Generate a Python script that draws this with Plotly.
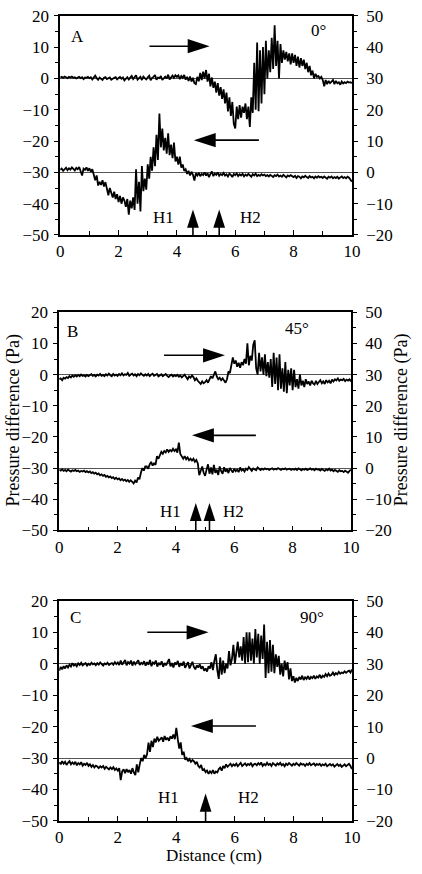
import plotly.graph_objects as go

W, H = 422, 874
FONT = "Liberation Serif"

# ---------------- data ----------------
distance = [round(0.05 * i, 2) for i in range(201)]  # cm

# Panel A (0 deg): upper trace on left axis, lower trace on right axis
a_top = [
    0.3, 0.5, 0.2, 0.6, 0.4, 0.1, 0.5, 0.3, 0.6, 0.2, 0.4, 0.0, 0.3, 0.5, 0.1, 0.4, -0.2, 0.3, 0.2, 0.5,
    0.1, 0.4, -0.3, 0.2, 0.9, 0.1, -0.4, 0.3, 0.0, -0.5, 0.2, 0.4, -0.2, 0.1, 0.3, -0.4, 0.0, 0.2, 0.4, -0.3,
    0.2, 0.5, -0.1, 0.3, -0.6, 0.1, 0.4, -0.3, 0.2, 0.8, -0.2, 0.3, 1.0, -0.4, 0.2, 0.5, -0.5, 0.6, 0.1, -0.3,
    0.4, 0.9, -0.6, 0.2, 0.5, 1.1, -0.4, 0.3, 0.1, 0.8, -0.5, 0.2, 0.6, 0.0, 1.2, -0.3, 0.4, 0.9, 0.2, 1.0,
    0.5, 1.0, -0.2, 0.8, 0.2, 1.1, -0.4, 0.5, -0.8, 0.6, -1.0, 0.2, -1.5, -1.8, 0.5, -0.9, 1.8, -0.5, 2.2, 0.0,
    2.7, -1.0, 1.5, -2.5, 0.3, -3.0, -1.0, -4.5, -1.5, -5.5, -2.8, -6.5, -3.5, -8.0, -4.5, -10.5, -6.0, -12.0, -7.5, -14.5,
    -16.0, -9.0, -13.0, -8.5, -12.5, -9.0, -11.0, -8.0, -13.0, -9.0, -15.5, -6.0, -11.0, 5.0, -10.0, 11.5, -10.5, 9.0, -8.0, 10.0,
    -5.0, 12.0, 0.0, 9.0, 2.0, 13.0, 3.0, 17.0, 4.0, 12.0, 0.0, 11.0, 5.0, 9.0, 6.0, 8.5, 5.5, 8.0, 4.5, 8.0,
    5.0, 7.5, 4.0, 7.0, 3.5, 6.5, 4.0, 6.0, 3.0, 5.0, 2.0, 4.0, 1.0, 2.5, 0.0, 1.5, 0.5, 0.8, 0.0, 0.5,
    -0.5, -2.5, -0.5, -1.8, -0.8, -1.5, -1.0, -0.5, -1.8, -0.8, -1.5, -1.2, -2.0, -1.0, -1.6, -1.2, -1.5, -1.0, -1.3, -1.2, -1.5,
]
a_bottom = [
    0.8, 1.2, 0.5, 1.0, 1.5, 0.7, 1.3, 0.9, 1.6, 1.1, 0.6, 1.4, 1.0, 1.7, 0.3, -1.0, 1.2, 0.8, 1.6, 0.5,
    1.3, 0.2, 1.0, -0.5, -2.5, -1.0, -4.2, -3.0, -4.0, -2.5, -4.5, -3.1, -5.5, -7.3, -5.0, -6.5, -8.0, -6.2, -8.5, -7.0,
    -9.5, -7.5, -10.0, -8.0, -9.0, -11.0, -8.5, -13.5, -9.0, -11.5, -8.0, -12.0, 1.0, -10.0, -3.0, -12.5, 2.0, -6.0, -2.0, -5.5,
    2.6, -2.0, 5.0, 0.5, 8.0, 2.0, 12.0, 4.0, 18.8, 8.0, 14.0, 7.0, 11.0, 6.0, 12.5, 5.5, 8.9, 4.5, 9.5, 3.5,
    5.0, 2.5, 5.0, 1.5, 2.5, 0.5, 1.0, -0.5, 0.5, -1.0, 0.2, -0.8, -2.6, -0.3, -1.0, -0.2, -1.2, -0.5, -0.9, 0.0,
    -1.0, -0.3, -1.5, -0.5, 0.3, -1.2, -0.4, -0.8, 0.0, -1.1, -0.5, -0.9, -0.2, -1.0, -0.6, -1.3, -0.4, -0.8, -1.5, -0.5,
    -0.9, -0.3, -1.2, -0.6, -1.0, -0.4, -1.3, -0.7, -1.1, -0.5, -0.9, -1.4, -0.6, -1.0, -0.4, -1.2, -0.8, -1.1, -0.6, -1.0,
    -0.7, -1.2, -0.9, -1.3, -0.8, -1.1, -1.5, -0.9, -1.2, -0.7, -1.3, -1.0, -1.4, -0.8, -1.1, -1.6, -1.0, -1.3, -0.9, -1.2,
    -1.5, -1.1, -1.8, -1.2, -1.4, -1.9, -1.3, -1.6, -1.1, -1.5, -1.8, -1.2, -1.6, -1.4, -1.9, -1.3, -1.7, -1.2, -1.6, -1.4,
    -1.8, -1.3, -1.6, -2.0, -1.4, -1.7, -1.3, -1.9, -1.5, -1.8, -1.4, -2.0, -1.6, -1.3, -1.8, -1.5, -1.9, -1.4, -1.7, -2.2, -3.0,
]

# Panel B (45 deg)
b_top = [
    -1.5, -1.2, -1.8, -1.0, -1.3, -0.8, -1.1, -0.5, -0.9, -0.3, -0.7, -0.2, -0.6, -0.1, -0.5, 0.0, -0.4, -0.2, -0.6, -0.1,
    -0.5, -0.2, 0.1, -0.4, -0.1, -0.6, 0.0, -0.3, 0.2, -0.4, -0.1, -0.5, 0.1, -0.3, 0.3, -0.2, -0.5, 0.2, -0.3, 0.0,
    -0.4, 0.2, -0.2, 0.4, -0.3, 0.1, -0.1, 0.5, -0.4, 0.0, 0.3, -0.3, 0.1, -0.5, 0.2, -0.2, 0.4, -0.1, -0.4, 0.1,
    -0.3, 0.2, -0.5, 0.0, 0.3, -0.4, -0.1, 0.2, -0.6, -0.2, 0.1, -0.5, -0.1, 0.2, -0.4, -0.8, -0.3, 0.0, -0.6, -0.2,
    -0.5, -0.1, -0.7, -0.3, -0.9, -0.4, 0.0, -0.8, -1.5, -0.6, -1.0, -0.3, -0.8, -1.8, -1.2, -2.0, -2.5, -3.0, -2.2, -2.8,
    -2.4, -1.8, -2.6, -1.5, -0.5, -1.2, -0.2, 1.0, -0.6, -1.5, -1.0, -1.8, -1.2, -2.0, -2.6, -1.5, 1.0, 0.5, 3.0, 5.5,
    3.5, 4.5, 2.5, 3.8, 2.2, 4.0, 3.0, 5.0, 3.5, 10.0, 3.0, 6.0, 4.5, 9.5, 11.0, 2.0, 0.0, 7.0, 1.0, 5.5,
    0.0, 6.5, -0.5, 4.0, -1.0, 5.0, -4.0, 7.0, -3.0, 5.5, -5.0, 6.5, -4.5, 2.0, -5.5, 4.0, -6.0, 1.5, -3.5, 2.0,
    -5.0, 1.5, -4.0, -1.5, -4.5, 0.0, -3.5, -2.0, -4.0, -1.5, -3.0, -2.2, -3.5, -2.0, -2.8, -3.2, -2.0, -3.0, -2.4, -1.8,
    -2.8, -2.2, -3.0, -1.8, -2.5, -2.0, -2.8, -1.6, -2.2, -1.5, -1.9, -1.2, -2.0, -1.6, -1.8, -1.4, -2.1, -1.6, -1.9, -1.5, -2.2,
]
b_bottom = [
    -0.5, -0.8, -0.4, -0.9, -0.6, -1.0, -0.5, -0.8, -1.1, -0.7, -0.9, -0.6, -1.0, -0.8, -1.2, -0.9, -1.1, -0.8, -1.3, -1.0,
    -1.4, -1.1, -1.6, -1.3, -1.8, -1.5, -2.0, -1.7, -2.3, -2.0, -2.5, -2.2, -2.8, -2.5, -3.0, -2.7, -3.2, -2.9, -3.5, -3.1,
    -3.6, -3.3, -3.9, -3.5, -4.0, -3.7, -4.2, -3.8, -4.4, -3.9, -4.3, -4.9, -4.0, -4.6, -3.0, -3.6, -1.5, 0.0, -0.8, 0.5,
    0.5, -0.2, 1.2, 2.0, 0.8, 1.5, 1.0, 3.8, 3.0, 4.5, 5.2, 4.6, 5.5, 5.0, 6.0, 5.2, 5.8, 5.4, 6.2, 5.5,
    6.0, 5.0, 8.2, 4.5, 3.5, 3.0, 3.8, 2.8, 3.4, 2.5, 3.0, 2.4, 3.0, 2.0, 2.6, 1.5, -2.3, -0.5, 0.5, -1.5,
    -2.5, -0.5, 1.2, -1.8, 0.2, -2.0, 1.0, -1.5, -0.5, -2.2, 0.5, -1.0, -1.8, 0.3, -1.2, -0.3, -1.6, 0.0, -0.9, -1.4,
    -0.2, -1.0, -0.5, -1.3, 0.2, -0.8, -0.4, -1.1, -0.2, -0.6, 0.3, -0.5, -0.9, -0.1, -0.4, -0.7, 0.2, -0.3, -0.6, -0.2,
    -0.5, -0.1, -0.4, -0.2, -0.6, -0.3, -0.1, -0.5, -0.2, -0.4, 0.0, -0.3, -0.6, -0.2, -0.4, -0.1, -0.5, -0.3, -0.2, -0.6,
    -0.3, -0.5, -0.2, -0.6, -0.1, -0.4, -0.7, -0.3, -0.5, -0.2, -0.6, -0.4, -0.1, -0.5, -0.3, -0.7, -0.2, -0.5, -0.4, -0.8,
    -0.3, -0.6, -0.9, -0.4, -0.7, -0.2, -0.8, -0.5, -1.0, -0.6, -0.8, -1.2, -0.7, -1.0, -0.9, -1.3, -0.8, -1.1, -1.5, -0.9, -0.5,
]

# Panel C (90 deg)
c_top = [
    -2.2, -1.0, -1.8, -0.8, -1.5, -0.5, -1.2, -0.3, -0.9, 0.2, -0.6, -0.2, -0.8, 0.1, -0.4, 0.3, -0.5, -0.1, 0.2, -0.6,
    0.0, -0.4, 0.3, -0.2, 0.1, -0.5, 0.2, -0.3, 0.4, -0.1, -0.6, 0.1, -0.2, 0.3, -0.4, 0.0, 0.2, -0.3, 0.5, -0.1,
    0.4, -0.4, 1.0, -0.3, 0.6, 1.2, -0.5, 0.5, 0.0, 1.0, -0.6, 0.7, -0.2, 0.4, 1.1, -0.4, 0.3, -0.1, 0.8, -0.6,
    0.5, -0.3, 1.2, -0.8, 0.4, 0.0, 1.0, -0.9, 0.3, -0.4, 0.8, -1.0, 0.2, -0.5, 0.6, 1.5, -0.8, 0.2, -1.2, 0.4,
    -0.3, 0.9, -1.0, 0.2, -0.6, 0.7, -1.3, -0.2, 0.5, -1.5, -0.4, 0.6, -1.0, -1.8, -0.5, -1.2, -0.2, -1.6, -0.8, -2.2,
    -1.5, -2.5, -0.8, -1.5, 0.5, -2.0, 1.0, 3.0, -2.0, -4.8, 2.0, -3.5, 1.0, -3.0, 0.0, -1.5, 4.0, -0.5, 1.5, 6.0,
    0.0, 3.0, 7.0, 2.0, 5.5, 1.0, 8.5, 0.0, 10.0, 0.5, 10.0, 1.0, 8.0, 0.0, 11.0, 2.0, 9.5, 0.0, 9.0, 1.5,
    12.5, -4.5, 7.0, -3.0, 7.5, -2.5, 6.0, -3.0, 3.0, -1.0, 2.5, -3.5, 0.0, -4.0, 1.0, -2.0, 0.5, -5.0, -1.5, -5.5,
    -4.0, -6.0, -4.5, -5.5, -4.2, -5.0, -3.8, -5.2, -4.3, -4.8, -3.9, -5.0, -4.2, -4.6, -3.8, -4.8, -4.0, -4.4, -3.5, -4.6,
    -3.8, -4.2, -3.3, -4.0, -3.1, -3.8, -3.5, -2.8, -3.6, -3.0, -3.4, -2.6, -3.2, -2.8, -3.0, -2.4, -2.9, -2.5, -2.2, -2.8, -1.8,
]
c_bottom = [
    -1.3, -2.0, -1.0, -1.8, -1.2, -2.2, -1.5, -1.0, -2.0, -1.4, -1.9, -1.2, -2.3, -1.6, -2.0, -1.3, -2.4, -1.8, -2.2, -1.5,
    -2.5, -2.0, -2.8, -2.2, -3.0, -2.4, -2.7, -3.2, -2.6, -3.0, -2.5, -3.4, -2.8, -3.2, -3.6, -3.0, -3.5, -2.9, -3.8, -3.3,
    -4.0, -3.2, -7.0, -4.2, -3.6, -4.8, -3.5, -4.5, -3.8, -5.0, -3.2, -4.6, -5.4, -2.0, -4.5, -2.0, 0.0, -1.0, 1.0, 0.0,
    1.2, 4.9, 2.0, 5.5, 3.5, 6.2, 5.0, 6.8, 5.5, 6.0, 6.6, 5.2, 7.0, 5.8, 6.5, 5.5, 6.9, 6.2, 7.5, 6.0,
    9.6, 6.0, 3.0, 5.0, 1.0, 2.0, -0.5, 0.0, -1.0, -0.3, -1.2, -0.6, -1.0, -1.8, -1.2, -2.5, -3.0, -2.2, -4.0, -3.5,
    -4.5, -4.0, -5.0, -4.2, -4.8, -3.8, -5.0, -4.3, -4.6, -3.5, -3.0, -4.0, -2.5, -3.2, -2.0, -2.8, -2.3, -1.8, -2.6, -2.0,
    -2.4, -1.8, -2.6, -2.0, -1.5, -2.5, -2.1, -1.7, -2.4, -1.9, -2.2, -1.5, -2.6, -2.0, -1.8, -2.3, -1.6, -2.1, -1.4, -2.5,
    -1.9, -2.3, -1.5, -2.2, -1.8, -2.5, -1.6, -2.0, -2.4, -1.7, -2.1, -1.5, -2.3, -1.9, -2.6, -1.8, -2.2, -1.6, -2.0, -2.4,
    -1.8, -2.2, -1.6, -2.0, -2.4, -1.7, -2.1, -1.9, -2.5, -1.8, -2.2, -1.6, -2.3, -2.0, -1.7, -2.4, -1.9, -2.2, -1.8, -2.5,
    -2.0, -2.3, -1.8, -2.6, -2.1, -1.9, -2.4, -2.0, -2.7, -2.2, -1.9, -2.5, -2.1, -2.8, -2.3, -2.0, -2.6, -2.2, -1.8, -2.5, -3.5,
]

panel_letters = ["A", "B", "C"]
panel_angles = ["0°", "45°", "90°"]
top_series = [a_top, b_top, c_top]
bottom_series = [a_bottom, b_bottom, c_bottom]
left_range = [-50, 20]
right_range = [-20, 50]

# flow-direction arrows: (tail x, tip x, y on left axis)
flow_arrows = [
    [(3.06, 5.12, 10.3), (6.81, 4.58, -19.7)],
    [(3.59, 5.68, 6.2), (6.74, 4.55, -19.5)],
    [(3.01, 5.10, 10.0), (6.72, 4.50, -19.8)],
]
# hair positions (H1/H2 arrows)
hair_x = [[4.55, 5.45], [4.68, 5.15], [5.0]]
hair_tip = [-41.9, -41.2, -41.3]

# ---------------- layout geometry (pixels) ----------------
boxes = [(58, 359, 7, 231), (57, 358, 310, 533), (57, 359, 605, 830)]
letter_pos = [(76, 28), (71, 330), (74, 622)]
angle_pos = [(325, 22), (302, 327), (318, 622)]
h1_pos = [(165, 213), (172, 514), (170, 806)]
h2_pos = [(254, 213), (237, 514), (252, 806)]


def px(x):
    return x / W


def py(y):
    return 1 - y / H


def yname(n):
    return "y" if n == 1 else f"y{n}"


def ykey(n):
    return "yaxis" if n == 1 else f"yaxis{n}"


tickfont = dict(family=FONT, size=17, color="black")
LW = 1.8
fig = go.Figure()
layout = dict(
    width=W, height=H, margin=dict(l=0, r=0, t=0, b=0),
    paper_bgcolor="white", plot_bgcolor="white", showlegend=False,
    font=dict(family=FONT, size=17, color="black"),
)
annotations = []

for p, (x0, x1, top, bot) in enumerate(boxes):
    xn = p + 1
    xa = "x" if xn == 1 else f"x{xn}"
    xkey = "xaxis" if xn == 1 else f"xaxis{xn}"
    yl, yr, yli, yri = 4 * p + 1, 4 * p + 2, 4 * p + 3, 4 * p + 4
    dom_x = [px(x0), px(x1)]
    dom_y = [py(bot), py(top)]

    layout[xkey] = dict(
        domain=dom_x, anchor=yname(yl), range=[0, 10], tick0=0, dtick=2,
        ticks="inside", ticklen=5, tickwidth=1.3, tickcolor="black",
        minor=dict(dtick=1, ticks="inside", ticklen=4, tickwidth=1.3, tickcolor="black"),
        showline=True, linecolor="black", linewidth=1.6, mirror=True,
        showgrid=False, zeroline=False, tickfont=tickfont, ticklabelstandoff=0,
    )
    common = dict(
        domain=dom_y, anchor=xa, tick0=0, dtick=10, tickwidth=1.3, tickcolor="black",
        showgrid=False, tickfont=tickfont,
    )
    layout[ykey(yl)] = dict(
        common, range=left_range, side="left", ticks="outside", ticklen=4,
        minor=dict(dtick=5, ticks="outside", ticklen=3, tickwidth=1.3, tickcolor="black"),
        showline=True, linecolor="black", linewidth=1.6,
        zeroline=True, zerolinecolor="#555555", zerolinewidth=1, ticklabelstandoff=2,
    )
    layout[ykey(yr)] = dict(
        common, range=right_range, side="right", overlaying=yname(yl), ticks="outside", ticklen=4,
        minor=dict(dtick=5, ticks="outside", ticklen=3, tickwidth=1.3, tickcolor="black"),
        showline=True, linecolor="black", linewidth=1.6,
        zeroline=True, zerolinecolor="#555555", zerolinewidth=1, ticklabelstandoff=5,
    )
    layout[ykey(yli)] = dict(
        common, range=left_range, side="left", overlaying=yname(yl), ticks="inside", ticklen=4,
        minor=dict(dtick=5, ticks="inside", ticklen=3, tickwidth=1.3, tickcolor="black"),
        showticklabels=False, showline=False, zeroline=False,
    )
    layout[ykey(yri)] = dict(
        common, range=right_range, side="right", overlaying=yname(yl), ticks="inside", ticklen=4,
        minor=dict(dtick=5, ticks="inside", ticklen=3, tickwidth=1.3, tickcolor="black"),
        showticklabels=False, showline=False, zeroline=False,
    )

    # pressure traces
    fig.add_trace(go.Scatter(
        x=distance, y=top_series[p], xaxis=xa, yaxis=yname(yl), mode="lines",
        line=dict(color="black", width=LW), hoverinfo="skip"))
    fig.add_trace(go.Scatter(
        x=distance, y=bottom_series[p], xaxis=xa, yaxis=yname(yr), mode="lines",
        line=dict(color="black", width=LW), hoverinfo="skip"))

    # flow-direction arrows
    for tail, tip, yv in flow_arrows[p]:
        d = 1 if tip > tail else -1
        fig.add_trace(go.Scatter(
            x=[tail, tip - d * 0.35], y=[yv, yv], xaxis=xa, yaxis=yname(yl), mode="lines",
            line=dict(color="black", width=1.6), hoverinfo="skip"))
        fig.add_trace(go.Scatter(
            x=[tip], y=[yv], xaxis=xa, yaxis=yname(yl), mode="markers",
            marker=dict(symbol="arrow", angle=90 * d, size=23, color="black",
                        line=dict(width=0)), hoverinfo="skip", cliponaxis=False))

    # hair arrows
    for hx in hair_x[p]:
        fig.add_trace(go.Scatter(
            x=[hx, hx], y=[left_range[0], hair_tip[p] - 3], xaxis=xa, yaxis=yname(yl),
            mode="lines", line=dict(color="black", width=1.6), hoverinfo="skip"))
        fig.add_trace(go.Scatter(
            x=[hx], y=[hair_tip[p]], xaxis=xa, yaxis=yname(yl), mode="markers",
            marker=dict(symbol="arrow", angle=0, size=19, color="black", line=dict(width=0)),
            hoverinfo="skip", cliponaxis=False))

    def txt(s, pos, size=17):
        annotations.append(dict(
            text=s, x=px(pos[0]), y=py(pos[1]), xref="paper", yref="paper",
            xanchor="center", yanchor="middle", showarrow=False,
            font=dict(family=FONT, size=size, color="black")))

    txt(panel_letters[p], letter_pos[p], 17)
    txt(panel_angles[p], angle_pos[p], 17)
    txt("H1", h1_pos[p], 17)
    txt("H2", h2_pos[p], 17)

# axis titles
annotations.append(dict(text="Pressure difference (Pa)", x=px(10), y=py(420), xref="paper", yref="paper",
                        xanchor="center", yanchor="middle", textangle=-90, showarrow=False,
                        font=dict(family=FONT, size=18, color="black")))
annotations.append(dict(text="Pressure difference (Pa)", x=px(411), y=py(420), xref="paper", yref="paper",
                        xanchor="center", yanchor="middle", textangle=-90, showarrow=False,
                        font=dict(family=FONT, size=18, color="black")))
annotations.append(dict(text="Distance (cm)", x=px(217), y=py(865), xref="paper", yref="paper",
                        xanchor="center", yanchor="middle", showarrow=False,
                        font=dict(family=FONT, size=17, color="black")))

layout["annotations"] = annotations
fig.update_layout(**layout)
fig.write_html("out.html")
